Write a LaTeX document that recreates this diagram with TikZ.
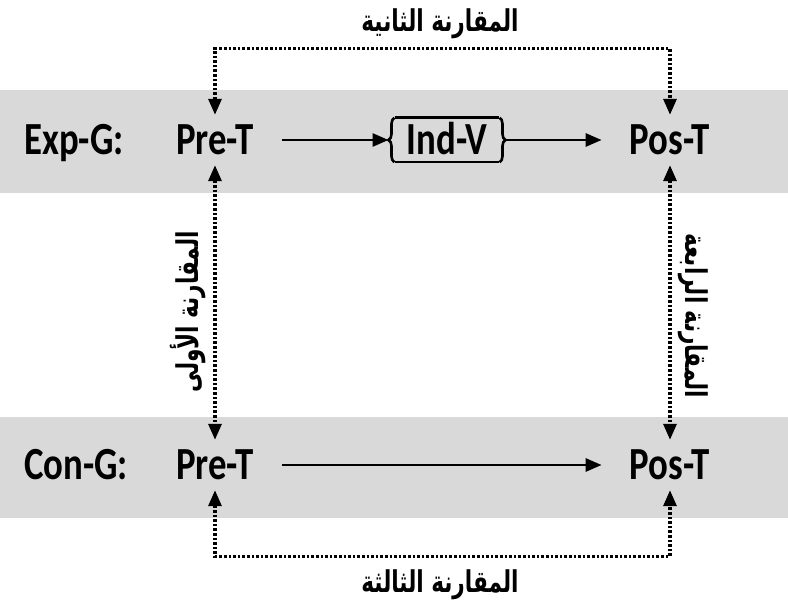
\documentclass[tikz,border=0pt]{standalone}
\usepackage{fontspec}
\usetikzlibrary{arrows.meta,decorations.pathreplacing}
\setmainfont[FakeStretch=0.8]{Carlito}
\newfontfamily\arabicfont[Script=Arabic,FakeStretch=0.72]{DejaVu Sans}
\TeXXeTstate=1
\newcommand{\arb}[1]{{\arabicfont\bfseries\fontsize{30}{34}\selectfont\beginR #1\endR}}

\begin{document}
\begin{tikzpicture}[x=1pt,y=-1pt]
                        \tikzstyle{lbl}=[font=\bfseries\fontsize{46}{50}\selectfont, text height=30pt, text depth=0pt, inner xsep=28pt, inner ysep=10pt]
                        \tikzstyle{flow}=[-{Triangle[length=16pt,width=13pt]}, line width=2.8pt]
                        \tikzstyle{cmp}=[{Triangle[length=16pt,width=13pt]}-{Triangle[length=16pt,width=13pt]}, line width=3.2pt, dash pattern=on 2.6pt off 2pt]
                        \tikzstyle{side}=[line width=2.6pt, decorate, decoration={brace, amplitude=6pt}]
                        \useasboundingbox (0,0) rectangle (788,609);
                        \fill[gray!30] (0,90) rectangle (788,193);
                        \fill[gray!30] (0,417) rectangle (788,518);
                        \node[lbl, inner xsep=0pt] (expg) at (74,140) {Exp-G:};
                        \node[lbl] (pre1) at (215,140) {Pre-T};
                        \node[lbl, inner xsep=12pt, inner ysep=7pt] (indv) at (447,140) {Ind-V};
                        \node[lbl] (pos1) at (670,140) {Pos-T};
                        \node[lbl, inner xsep=0pt] (cong) at (76,465) {Con-G:};
                        \node[lbl] (pre2) at (215,465) {Pre-T};
                        \node[lbl] (pos2) at (670,465) {Pos-T};
                        \draw[line width=2.6pt] (indv.north west) -- (indv.north east);
                        \draw[line width=2.6pt] (indv.south west) -- (indv.south east);
                        \draw[side] (indv.south west) -- (indv.north west);
                        \draw[side] (indv.north east) -- (indv.south east);
                        \draw[flow] (pre1) -- ([xshift=-6pt]indv.west);
                        \draw[flow, shorten <=6pt] (indv) -- (pos1);
                        \draw[flow] (pre2) -- (pos2);
                        \draw[cmp] (pre1.north) -- ++(0,-66) -| (pos1.north);
                        \draw[cmp] (pre2.south) -- ++(0,66) -| (pos2.south);
                        \draw[cmp] (pre1.south) -- (pre2.north);
                        \draw[cmp] (pos1.south) -- (pos2.north);
                        \node (cmp2) at (440,24) {\arb{المقارنة الثانية}};
                        \node (cmp3) at (440,585) {\arb{المقارنة الثالثة}};
                        \node[rotate=90] (cmp1) at (188,312) {\arb{المقارنة الأولى}};
                        \node[rotate=-90] (cmp4) at (693,316) {\arb{المقارنة الرابعة}};
                    \end{tikzpicture}
\end{document}
